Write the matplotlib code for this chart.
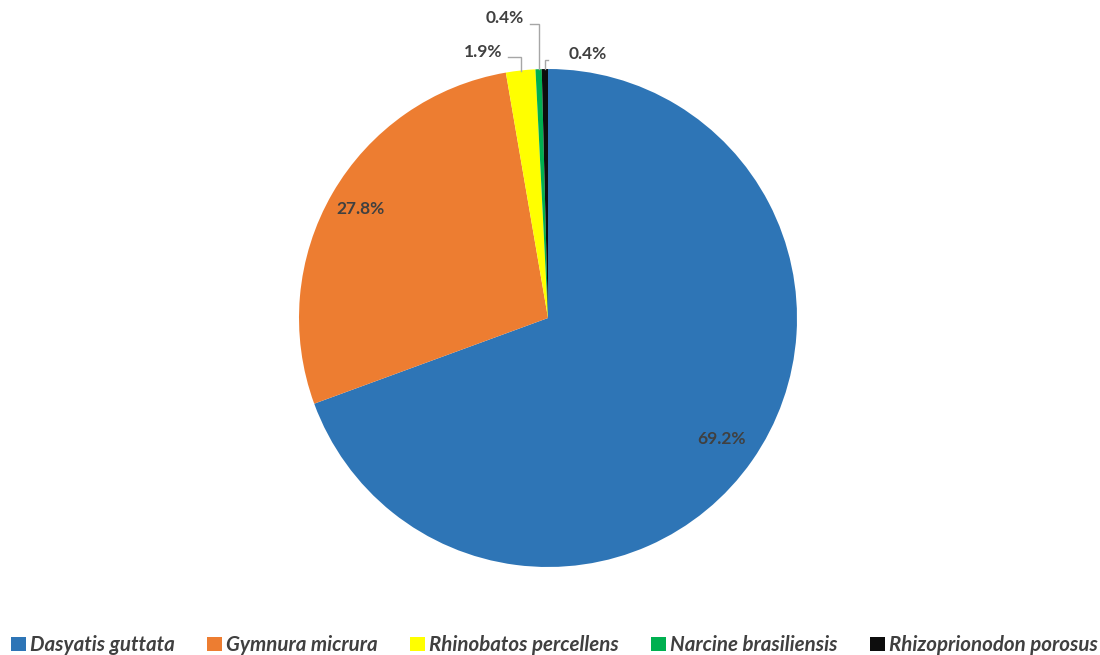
import numpy as np
import matplotlib
matplotlib.use("Agg")
import matplotlib.pyplot as plt
from matplotlib.patches import Patch

species = ["Dasyatis guttata", "Gymnura micrura", "Rhinobatos percellens",
           "Narcine brasiliensis", "Rhizoprionodon porosus"]
percent = [69.2, 27.8, 1.9, 0.4, 0.4]
colors = ["#2E75B6", "#ED7D31", "#FFFF00", "#00B050", "#0D0D0D"]

TXT = "#404040"
FONT = ["Lato", "DejaVu Sans"]

W, H = 1100, 655
fig = plt.figure(figsize=(W / 100, H / 100), dpi=100)
cx, cy, R = 548, 318, 250
ax = fig.add_axes([(cx - R) / W, (H - cy - R) / H, 2 * R / W, 2 * R / H])

wedges, _ = ax.pie(percent, colors=colors, startangle=90, counterclock=False,
                   radius=249 / 250, normalize=True,
                   wedgeprops=dict(linewidth=0))
ax.set_xlim(-1, 1)
ax.set_ylim(-1, 1)
ax.set_aspect("equal")
ax.axis("off")

r = 249 / 250
# Large slices: labels inside
for i, dist in [(0, 0.85), (1, 0.87)]:
    w = wedges[i]
    th = np.deg2rad((w.theta1 + w.theta2) / 2)
    ax.text(dist * r * np.cos(th), dist * r * np.sin(th), f"{percent[i]}%",
            ha="center", va="center", fontsize=12.5, fontweight="bold",
            color=TXT, family=FONT)

# Small slices: labels outside with leader lines
# (text position, elbow height, horizontal end)
small = {
    2: ((-0.26, 1.064), 1.044, -0.16),
    3: ((-0.172, 1.20), 1.176, -0.072),
    4: ((0.16, 1.056), 1.032, 0.0),
}
for i, (tpos, ey, ex) in small.items():
    w = wedges[i]
    th = np.deg2rad((w.theta1 + w.theta2) / 2)
    px, py = r * np.cos(th), r * np.sin(th)
    ax.plot([px, px, ex], [py, ey, ey], color="#A6A6A6", lw=1,
            clip_on=False, solid_joinstyle="miter")
    ax.text(tpos[0], tpos[1], f"{percent[i]}%", ha="center", va="center",
            fontsize=12.5, fontweight="bold", color=TXT, family=FONT)

handles = [Patch(facecolor=c, edgecolor="none") for c in colors]
leg = fig.legend(handles, species, loc="center", bbox_to_anchor=(0.504, 1 - 645 / H),
                 ncol=5, frameon=False, handlelength=0.7, handleheight=0.7,
                 handletextpad=0.2, columnspacing=1.6,
                 prop=dict(family=FONT, size=14.8, weight="bold", style="italic"))
for t in leg.get_texts():
    t.set_color(TXT)

fig.savefig("out.png", dpi=100, facecolor="white")
